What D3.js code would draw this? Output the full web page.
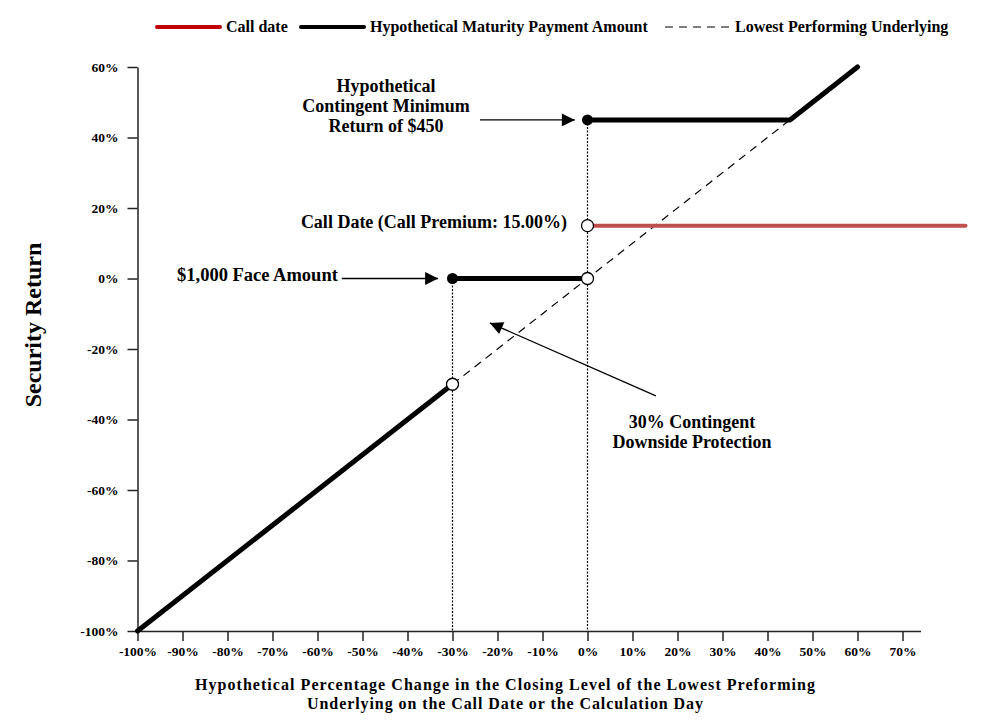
<!DOCTYPE html>
<html>
<head>
  <meta charset="utf-8">
  <title>Hypothetical payout</title>
  <style>
    body { margin: 0; background: #fff; }
    svg text { font-family: "Liberation Serif", "Times New Roman", serif; font-weight: bold; fill: #000; }
    .axis path, .axis line { stroke: #222; stroke-width: 1.5; }
    .axis text { font-size: 13.5px; font-family: "Liberation Serif", serif; font-weight: bold; }
  </style>
</head>
<body>
<script src="https://cdn.jsdelivr.net/npm/d3@7"></script>
<script>
  // tick values (percent)
  var xTicks = [-100, -90, -80, -70, -60, -50, -40, -30, -20, -10, 0, 10, 20, 30, 40, 50, 60, 70];
  var yTicks = [-100, -80, -60, -40, -20, 0, 20, 40, 60];

  // [underlying change %, security return %]
  var maturityLow = [[-100, -100], [-30, -30]];
  var maturityMid = [[-30, 0], [0, 0]];
  var maturityHigh = [[0, 45], [45, 45], [60, 60]];
  var callDate = [[0, 15], [84, 15]];
  var underlying = [[-30, -30], [45, 45]];
  var filledDots = [[-30, 0], [0, 45]];
  var openDots = [[-30, -30], [0, 0], [0, 15]];
  var guides = [[[-30, 0], [-30, -100]], [[0, 45], [0, -100]]];

  // annotation arrows, [from, to] in data units
  var arrows = [
    [[-54.6, 0], [-33.2, 0]],
    [[-23.9, 45], [-2.8, 45]],
    [[15.2, -33.3], [-21.7, -12.6]]
  ];

  var width = 990, height = 726;

  var svg = d3.select('body').append('svg')
    .attr('width', width)
    .attr('height', height);

  var x = d3.scaleLinear().domain([-100, 74]).range([137.5, 920.5]);
  var y = d3.scaleLinear().domain([-100, 60]).range([631, 67]);

  var line = d3.line()
    .x(function(d) { return x(d[0]); })
    .y(function(d) { return y(d[1]); });

  var defs = svg.append('defs');
  defs.append('marker')
    .attr('id', 'head')
    .attr('viewBox', '0 0 10 10')
    .attr('refX', 10)
    .attr('refY', 5)
    .attr('markerUnits', 'userSpaceOnUse')
    .attr('markerWidth', 20)
    .attr('markerHeight', 13)
    .attr('orient', 'auto')
    .append('path')
    .attr('d', 'M0,0L10,5L0,10Z')
    .attr('fill', '#000');

  // axes
  svg.append('g')
    .attr('class', 'axis')
    .attr('transform', 'translate(0,' + y(-100) + ')')
    .call(d3.axisBottom(x).tickValues(xTicks).tickSize(10).tickSizeOuter(0).tickPadding(5)
      .tickFormat(function(d) { return d + '%'; }));

  svg.append('g')
    .attr('class', 'axis')
    .attr('transform', 'translate(' + x(-100) + ',0)')
    .call(d3.axisLeft(y).tickValues(yTicks).tickSize(10).tickSizeOuter(0).tickPadding(9)
      .tickFormat(function(d) { return d + '%'; }));

  // dotted guides
  svg.selectAll('path.guide')
    .data(guides)
    .enter().append('path')
    .attr('class', 'guide')
    .attr('d', line)
    .attr('fill', 'none')
    .attr('stroke', '#000')
    .attr('stroke-width', 1.2)
    .attr('stroke-dasharray', '2,1.5');

  // lowest performing underlying
  svg.append('path')
    .attr('d', line(underlying))
    .attr('fill', 'none')
    .attr('stroke', '#000')
    .attr('stroke-width', 1.2)
    .attr('stroke-dasharray', '8,6');

  // call date
  svg.append('path')
    .attr('d', line(callDate))
    .attr('fill', 'none')
    .attr('stroke', '#c0504d')
    .attr('stroke-width', 4)
    .attr('stroke-linecap', 'round');

  // maturity payment
  svg.selectAll('path.maturity')
    .data([maturityLow, maturityMid, maturityHigh])
    .enter().append('path')
    .attr('class', 'maturity')
    .attr('d', line)
    .attr('fill', 'none')
    .attr('stroke', '#000')
    .attr('stroke-width', 5)
    .attr('stroke-linecap', 'round');

  svg.selectAll('circle.filled')
    .data(filledDots)
    .enter().append('circle')
    .attr('class', 'filled')
    .attr('cx', function(d) { return x(d[0]); })
    .attr('cy', function(d) { return y(d[1]); })
    .attr('r', 5.5)
    .attr('fill', '#000');

  svg.selectAll('circle.open')
    .data(openDots)
    .enter().append('circle')
    .attr('class', 'open')
    .attr('cx', function(d) { return x(d[0]); })
    .attr('cy', function(d) { return y(d[1]); })
    .attr('r', 6)
    .attr('fill', '#fff')
    .attr('stroke', '#000')
    .attr('stroke-width', 1.3);

  // annotation arrows
  svg.selectAll('path.arrow')
    .data(arrows)
    .enter().append('path')
    .attr('class', 'arrow')
    .attr('d', line)
    .attr('fill', 'none')
    .attr('stroke', '#000')
    .attr('stroke-width', 1.3)
    .attr('marker-end', 'url(#head)');

  // annotation texts
  var t1 = svg.append('text')
    .attr('text-anchor', 'middle')
    .style('font-size', '18px');
  ['Hypothetical', 'Contingent Minimum', 'Return of $450'].forEach(function(s, i) {
    t1.append('tspan').attr('x', 386).attr('y', 92 + i * 20).text(s);
  });

  svg.append('text')
    .attr('x', 567)
    .attr('y', 228)
    .attr('text-anchor', 'end')
    .style('font-size', '18px')
    .text('Call Date (Call Premium: 15.00%)');

  svg.append('text')
    .attr('x', 177)
    .attr('y', 281)
    .style('font-size', '18.5px')
    .text('$1,000 Face Amount');

  var t2 = svg.append('text')
    .attr('text-anchor', 'middle')
    .style('font-size', '18px');
  ['30% Contingent', 'Downside Protection'].forEach(function(s, i) {
    t2.append('tspan').attr('x', 692).attr('y', 428 + i * 20).text(s);
  });

  // axis titles
  svg.append('text')
    .attr('transform', 'translate(41,325) rotate(-90)')
    .attr('text-anchor', 'middle')
    .style('font-size', '24px')
    .text('Security Return');

  var xTitle = ['Hypothetical Percentage Change in the Closing Level of the Lowest Preforming',
                'Underlying on the Call Date or the Calculation Day'];
  var xTitleWidth = [620, 396];
  svg.selectAll('text.xtitle')
    .data(xTitle)
    .enter().append('text')
    .attr('class', 'xtitle')
    .attr('x', 505)
    .attr('y', function(d, i) { return 690 + i * 19; })
    .attr('text-anchor', 'middle')
    .attr('textLength', function(d, i) { return xTitleWidth[i]; })
    .attr('lengthAdjust', 'spacing')
    .style('font-size', '16px')
    .text(function(d) { return d; });

  // legend
  var legend = svg.append('g').attr('class', 'legend');
  legend.append('line')
    .attr('x1', 157).attr('x2', 220).attr('y1', 27).attr('y2', 27)
    .attr('stroke', '#c00000').attr('stroke-width', 4).attr('stroke-linecap', 'round');
  legend.append('text').attr('x', 226).attr('y', 32).style('font-size', '16px').text('Call date');
  legend.append('line')
    .attr('x1', 301).attr('x2', 364).attr('y1', 27).attr('y2', 27)
    .attr('stroke', '#000').attr('stroke-width', 4).attr('stroke-linecap', 'round');
  legend.append('text').attr('x', 370).attr('y', 32).style('font-size', '16px').text('Hypothetical Maturity Payment Amount');
  legend.append('line')
    .attr('x1', 665).attr('x2', 734).attr('y1', 27).attr('y2', 27)
    .attr('stroke', '#000').attr('stroke-width', 1.2).attr('stroke-dasharray', '8,6');
  legend.append('text').attr('x', 735).attr('y', 32).style('font-size', '16px').text('Lowest Performing Underlying');
</script>
</body>
</html>
